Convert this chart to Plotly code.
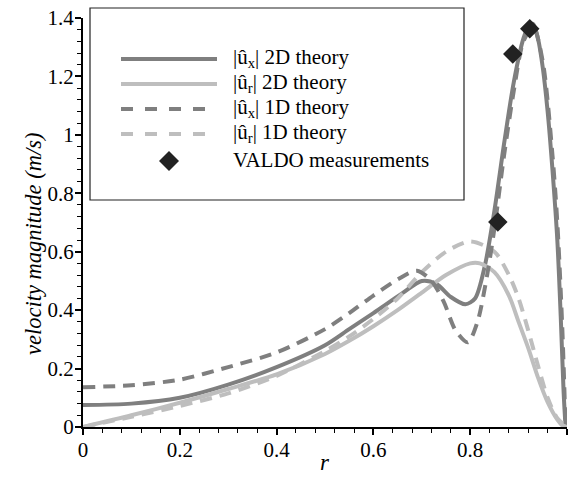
import plotly.graph_objects as go

# ---------------- data ----------------
r_ux2d = [0, 0.1, 0.2, 0.3, 0.4, 0.5, 0.55, 0.6, 0.66, 0.7, 0.73, 0.76, 0.79, 0.81, 0.83,
          0.85, 0.87, 0.89, 0.91, 0.92, 0.93, 0.94, 0.95, 0.96, 0.97, 0.98, 0.987, 0.993, 0.997]
v_ux2d = [0.075, 0.08, 0.10, 0.145, 0.205, 0.28, 0.335, 0.39, 0.458, 0.50, 0.49, 0.445, 0.42, 0.44, 0.55,
          0.74, 0.97, 1.18, 1.33, 1.37, 1.38, 1.33, 1.23, 1.08, 0.88, 0.64, 0.38, 0.12, 0.0]

r_ur2d = [0, 0.1, 0.2, 0.3, 0.4, 0.5, 0.55, 0.6, 0.65, 0.7, 0.75, 0.8, 0.82, 0.85, 0.88,
          0.9, 0.92, 0.94, 0.96, 0.98, 0.99, 1.0]
v_ur2d = [0.0, 0.04, 0.083, 0.13, 0.18, 0.25, 0.295, 0.345, 0.40, 0.46, 0.52, 0.56, 0.56, 0.53, 0.45,
          0.36, 0.27, 0.17, 0.085, 0.025, 0.006, 0.0]

r_ux1d = [0, 0.1, 0.2, 0.3, 0.4, 0.5, 0.55, 0.6, 0.65, 0.69, 0.72, 0.745, 0.77, 0.795, 0.815,
          0.835, 0.85, 0.87, 0.89, 0.91, 0.93, 0.95, 0.97, 0.98, 0.99, 0.997]
v_ux1d = [0.136, 0.143, 0.162, 0.205, 0.255, 0.335, 0.39, 0.45, 0.505, 0.535, 0.50, 0.43, 0.33, 0.29, 0.36,
          0.52, 0.68, 0.93, 1.15, 1.32, 1.37, 1.25, 0.93, 0.70, 0.35, 0.0]

r_ur1d = [0, 0.1, 0.2, 0.3, 0.4, 0.5, 0.55, 0.6, 0.65, 0.7, 0.75, 0.8, 0.85, 0.88, 0.9,
          0.92, 0.94, 0.96, 0.98, 1.0]
v_ur1d = [0.0, 0.035, 0.072, 0.115, 0.175, 0.26, 0.31, 0.37, 0.44, 0.53, 0.60, 0.635, 0.60, 0.52, 0.44,
          0.33, 0.21, 0.10, 0.03, 0.0]

r_valdo = [0.857, 0.888, 0.923]
v_valdo = [0.702, 1.277, 1.363]

x_ticks = [0, 0.2, 0.4, 0.6, 0.8, 1]
y_ticks = [0, 0.2, 0.4, 0.6, 0.8, 1, 1.2, 1.4]

legend_labels = ["|û<sub>x</sub>| 2D theory", "|û<sub>r</sub>| 2D theory",
                 "|û<sub>x</sub>| 1D theory", "|û<sub>r</sub>| 1D theory",
                 "VALDO measurements"]

x_title = "<i>r</i>"
y_title = "<i>velocity magnitude (m/s)</i>"

# ---------------- style ----------------
DARK = "#7f7f7f"
LIGHT = "#bebebe"
LW = 4
DASH = "12px,8px"
FONT = "Liberation Serif"

W, H = 568, 478
L, R, T, B = 83, 1, 18, 51
PW, PH = W - L - R, H - T - B


def px_x(px):
    return (px - L) / PW


def px_y(py):
    return (H - B - py) / PH


fig = go.Figure()

series = [
    (r_ux2d, v_ux2d, DARK, "solid"),
    (r_ur2d, v_ur2d, LIGHT, "solid"),
    (r_ur1d, v_ur1d, LIGHT, DASH),
    (r_ux1d, v_ux1d, DARK, DASH),
]
for xs, ys, col, dash in series:
    fig.add_trace(go.Scatter(x=xs, y=ys, mode="lines",
                             line=dict(color=col, width=LW, dash=dash, shape="spline", smoothing=0.8),
                             showlegend=False, hoverinfo="skip"))

fig.add_trace(go.Scatter(x=r_valdo, y=v_valdo, mode="markers",
                         marker=dict(symbol="diamond", size=15, color="#222222"),
                         showlegend=False))

# ---------------- manual legend ----------------
shapes = []
annotations = []
shapes.append(dict(type="rect", xref="paper", yref="paper",
                   x0=px_x(90), x1=px_x(464), y0=px_y(200), y1=px_y(8),
                   line=dict(color="#222222", width=1.2), fillcolor="white", layer="above"))
row_y = [59, 84, 109, 134, 161]
styles = [(DARK, "solid"), (LIGHT, "solid"), (DARK, DASH), (LIGHT, DASH)]
for i, (col, dash) in enumerate(styles):
    shapes.append(dict(type="line", xref="paper", yref="paper",
                       x0=px_x(121), x1=px_x(217), y0=px_y(row_y[i]), y1=px_y(row_y[i]),
                       line=dict(color=col, width=LW, dash=("solid" if dash == "solid" else "dash")),
                       layer="above"))
shapes.append(dict(type="path", xref="paper", yref="paper", xsizemode="pixel", ysizemode="pixel",
                   xanchor=px_x(169), yanchor=px_y(row_y[4]),
                   path="M -10 0 L 0 10 L 10 0 L 0 -10 Z",
                   fillcolor="#222222", line=dict(width=0), layer="above"))
for i, lab in enumerate(legend_labels):
    annotations.append(dict(xref="paper", yref="paper", x=px_x(231), y=px_y(row_y[i] - 1),
                            xanchor="left", yanchor="middle", showarrow=False, text=lab,
                            font=dict(family=FONT, size=21, color="black")))

# axis titles as annotations (reference y title sits below the axis centre)
annotations.append(dict(xref="paper", yref="paper", x=px_x(33), y=px_y(244), textangle=-90,
                        xanchor="center", yanchor="middle", showarrow=False, text=y_title,
                        font=dict(family=FONT, size=22.5, color="black")))
annotations.append(dict(xref="paper", yref="paper", x=px_x(325), y=px_y(477),
                        xanchor="center", yanchor="bottom", showarrow=False, text=x_title,
                        font=dict(family=FONT, size=23, color="black")))

axis_common = dict(showline=True, linecolor="black", linewidth=2, ticks="outside",
                   ticklen=6, tickwidth=2, tickcolor="black", showgrid=False, zeroline=False,
                   automargin=False, ticklabelstandoff=-3,
                   tickfont=dict(family=FONT, size=21, color="black"),
                   minor=dict(ticks="outside", ticklen=4, tickwidth=1, tickcolor="black", dtick=0.04))

fig.update_layout(
    width=W, height=H,
    margin=dict(l=L, r=R, t=T, b=B),
    paper_bgcolor="white", plot_bgcolor="white",
    shapes=shapes, annotations=annotations,
    showlegend=False,
    font=dict(family=FONT),
    xaxis=dict(range=[0, 1], tickvals=x_ticks, ticktext=[str(v) for v in x_ticks], **axis_common),
    yaxis=dict(range=[0, 1.4], tickvals=y_ticks, ticktext=[str(v) for v in y_ticks], **axis_common),
)

fig.write_html("out.html", config={"displayModeBar": False},
               post_script="document.body.style.margin='0';document.body.style.overflow='hidden';")
